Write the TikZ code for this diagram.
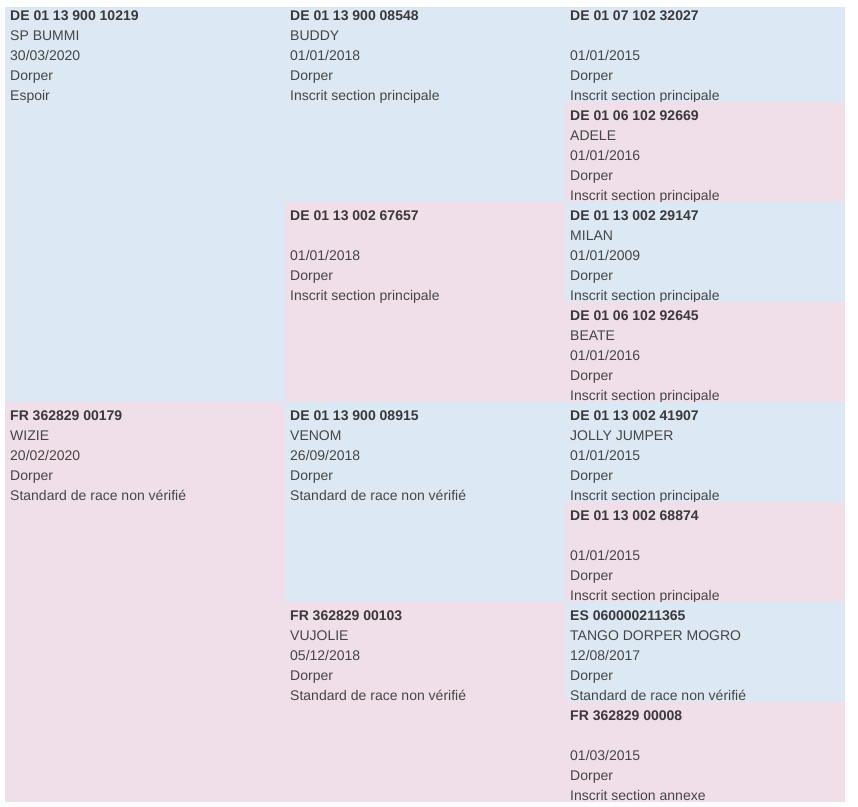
\documentclass[tikz,border=0pt]{standalone}
\usepackage{fontspec}
\newfontfamily\pedfont{Liberation Sans}
\definecolor{cellblue}{HTML}{DCE8F4}
\definecolor{cellpink}{HTML}{F0DEE8}
\definecolor{pedtext}{HTML}{464646}
\definecolor{pedbold}{HTML}{3A3A3A}
\tikzset{
  pedline/.style={anchor=base west, inner sep=0pt, text=pedtext, font=\pedfont\fontsize{14}{16}\selectfont},
  pedid/.style={anchor=base west, inner sep=0pt, text=pedbold, font=\pedfont\bfseries\fontsize{14}{16}\selectfont},
}
% #1 name, #2 x, #3 top, #4 height, #5 colour, #6 id, #7 animal name, #8 date, #9 status
\newcommand\pedcell[9]{%
  \fill[#5] ({#2},{#3}) rectangle ({#2+280},{#3+#4});
  \node[pedid] (#1-id) at ({#2+5},{#3+18.7}) {#6};
  \if\relax\detokenize{#7}\relax\else
    \node[pedline] (#1-name) at ({#2+5},{#3+38.7}) {#7};
  \fi
  \node[pedline] (#1-date) at ({#2+5},{#3+58.7}) {#8};
  \node[pedline] (#1-breed) at ({#2+5},{#3+78.7}) {Dorper};
  \node[pedline] (#1-status) at ({#2+5},{#3+98.7}) {#9};
}
\begin{document}
\begin{tikzpicture}[x=1pt,y=-1pt]
\useasboundingbox (0,0) rectangle (858,806);
\begin{scope}
\clip (5,7) rectangle (845,802);
% column 1
\pedcell{a}{5}{2}{400}{cellblue}{DE 01 13 900 10219}{SP BUMMI}{30/03/2020}{Espoir}
\pedcell{b}{5}{402}{400}{cellpink}{FR 362829 00179}{WIZIE}{20/02/2020}{Standard de race non vérifié}
% column 2
\pedcell{c}{285}{2}{200}{cellblue}{DE 01 13 900 08548}{BUDDY}{01/01/2018}{Inscrit section principale}
\pedcell{d}{285}{202}{200}{cellpink}{DE 01 13 002 67657}{}{01/01/2018}{Inscrit section principale}
\pedcell{e}{285}{402}{200}{cellblue}{DE 01 13 900 08915}{VENOM}{26/09/2018}{Standard de race non vérifié}
\pedcell{f}{285}{602}{200}{cellpink}{FR 362829 00103}{VUJOLIE}{05/12/2018}{Standard de race non vérifié}
% column 3
\pedcell{g}{565}{2}{100}{cellblue}{DE 01 07 102 32027}{}{01/01/2015}{Inscrit section principale}
\pedcell{h}{565}{102}{100}{cellpink}{DE 01 06 102 92669}{ADELE}{01/01/2016}{Inscrit section principale}
\pedcell{i}{565}{202}{100}{cellblue}{DE 01 13 002 29147}{MILAN}{01/01/2009}{Inscrit section principale}
\pedcell{j}{565}{302}{100}{cellpink}{DE 01 06 102 92645}{BEATE}{01/01/2016}{Inscrit section principale}
\pedcell{k}{565}{402}{100}{cellblue}{DE 01 13 002 41907}{JOLLY JUMPER}{01/01/2015}{Inscrit section principale}
\pedcell{l}{565}{502}{100}{cellpink}{DE 01 13 002 68874}{}{01/01/2015}{Inscrit section principale}
\pedcell{m}{565}{602}{100}{cellblue}{ES 060000211365}{TANGO DORPER MOGRO}{12/08/2017}{Standard de race non vérifié}
\pedcell{n}{565}{702}{100}{cellpink}{FR 362829 00008}{}{01/03/2015}{Inscrit section annexe}
\end{scope}
\end{tikzpicture}
\end{document}
